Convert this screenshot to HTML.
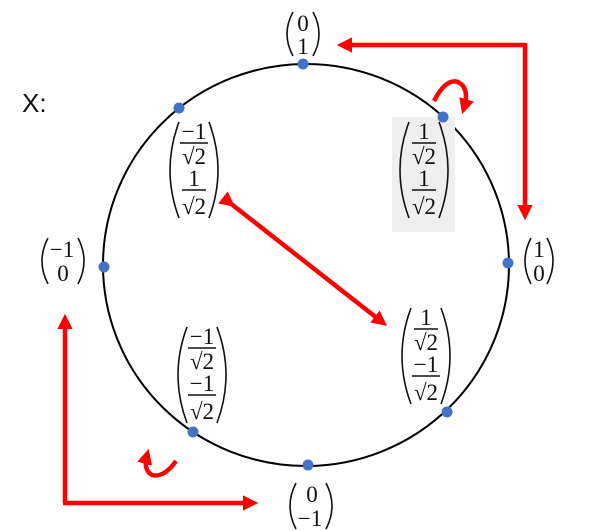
<!DOCTYPE html>
<html><head><meta charset="utf-8"><style>
html,body{margin:0;padding:0;background:#fff;}
svg{display:block;}
text{font-family:"Liberation Serif","DejaVu Serif",serif;fill:#111;}
</style></head><body>
<svg width="600" height="531" viewBox="0 0 600 531" xmlns="http://www.w3.org/2000/svg">
<defs>
<marker id="ah" markerWidth="3.4" markerHeight="3.4" refX="2" refY="1.7" orient="auto" markerUnits="strokeWidth">
<path d="M0,0 L3.4,1.7 L0,3.4 z" fill="#ff0000"/>
</marker>
<g id="frac1">
<path d="M14,0 Q-4,48 14,96" fill="none" stroke="#111" stroke-width="1.6"/>
<path d="M44,0 Q62,48 44,96" fill="none" stroke="#111" stroke-width="1.6"/>
</g>
</defs>
<rect x="0" y="0" width="600" height="531" fill="#fff"/>
<text x="22" y="112" font-size="26" style="font-family:'Liberation Sans',sans-serif">X:</text>

<ellipse cx="306" cy="265" rx="203" ry="201" fill="none" stroke="#000" stroke-width="2"/>

<rect x="392" y="117" width="63" height="115" fill="#efefef"/>

<g stroke="#ff0000" stroke-width="4.5" fill="none">
<polyline points="525,45 343,45" marker-end="url(#ah)"/>
<polyline points="525,43 525,214" marker-end="url(#ah)"/>
<polyline points="65,503 65,320" marker-end="url(#ah)"/>
<polyline points="63,503 252,503" marker-end="url(#ah)"/>
<line x1="230" y1="203" x2="382" y2="322" marker-start="url(#ah)" marker-end="url(#ah)"/>
<path d="M434,101 Q446,78 458,82 Q470,88 464,108" marker-end="url(#ah)"/>
<path d="M176,461 Q164,478 152,475 Q143,470 147,455" marker-end="url(#ah)"/>
</g>

<g fill="#4472c4">
<circle cx="303" cy="64" r="5.5"/><circle cx="443" cy="117" r="5.5"/>
<circle cx="508" cy="263" r="5.5"/><circle cx="447" cy="412" r="5.5"/>
<circle cx="308" cy="465" r="5.5"/><circle cx="193" cy="432" r="5.5"/>
<circle cx="104" cy="267" r="5.5"/><circle cx="179" cy="108" r="5.5"/>
</g>

<g style="font-size:23px" text-anchor="middle">
<g transform="translate(284,12)">
<path d="M9,0 Q-3,22 9,44" fill="none" stroke="#111" stroke-width="1.6"/>
<path d="M29,0 Q41,22 29,44" fill="none" stroke="#111" stroke-width="1.6"/>
<text x="19" y="19">0</text><text x="19" y="42">1</text></g>
<g transform="translate(522,238)">
<path d="M9,0 Q-3,23 9,46" fill="none" stroke="#111" stroke-width="1.6"/>
<path d="M25,0 Q37,23 25,46" fill="none" stroke="#111" stroke-width="1.6"/>
<text x="17" y="19">1</text><text x="17" y="43">0</text></g>
<g transform="translate(39,238)">
<path d="M9,0 Q-3,23 9,46" fill="none" stroke="#111" stroke-width="1.6"/>
<path d="M39,0 Q51,23 39,46" fill="none" stroke="#111" stroke-width="1.6"/>
<text x="23" y="19">−1</text><text x="24" y="43">0</text></g>
<g transform="translate(287,483)">
<path d="M9,0 Q-3,23 9,46" fill="none" stroke="#111" stroke-width="1.6"/>
<path d="M39,0 Q51,23 39,46" fill="none" stroke="#111" stroke-width="1.6"/>
<text x="25" y="19">0</text><text x="23" y="43">−1</text></g>
</g>

<g style="font-size:23px" text-anchor="middle">
<g transform="translate(165,122)">
<use href="#frac1"/>
<text x="29" y="17">−1</text><line x1="15" y1="21" x2="43" y2="21" stroke="#111" stroke-width="1.5"/><text x="29" y="42">√2</text>
<text x="29" y="64">1</text><line x1="17" y1="68" x2="41" y2="68" stroke="#111" stroke-width="1.5"/><text x="29" y="92">√2</text>
</g>
<g transform="translate(395,122)">
<use href="#frac1"/>
<text x="29" y="17">1</text><line x1="17" y1="21" x2="41" y2="21" stroke="#111" stroke-width="1.5"/><text x="29" y="42">√2</text>
<text x="29" y="64">1</text><line x1="17" y1="68" x2="41" y2="68" stroke="#111" stroke-width="1.5"/><text x="29" y="92">√2</text>
</g>
<g transform="translate(397,308)">
<use href="#frac1"/>
<text x="29" y="17">1</text><line x1="17" y1="21" x2="41" y2="21" stroke="#111" stroke-width="1.5"/><text x="29" y="42">√2</text>
<text x="29" y="64">−1</text><line x1="15" y1="68" x2="43" y2="68" stroke="#111" stroke-width="1.5"/><text x="29" y="92">√2</text>
</g>
<g transform="translate(173,327)">
<use href="#frac1"/>
<text x="29" y="17">−1</text><line x1="15" y1="21" x2="43" y2="21" stroke="#111" stroke-width="1.5"/><text x="29" y="42">√2</text>
<text x="29" y="64">−1</text><line x1="15" y1="68" x2="43" y2="68" stroke="#111" stroke-width="1.5"/><text x="29" y="92">√2</text>
</g>
</g>
</svg>
</body></html>
